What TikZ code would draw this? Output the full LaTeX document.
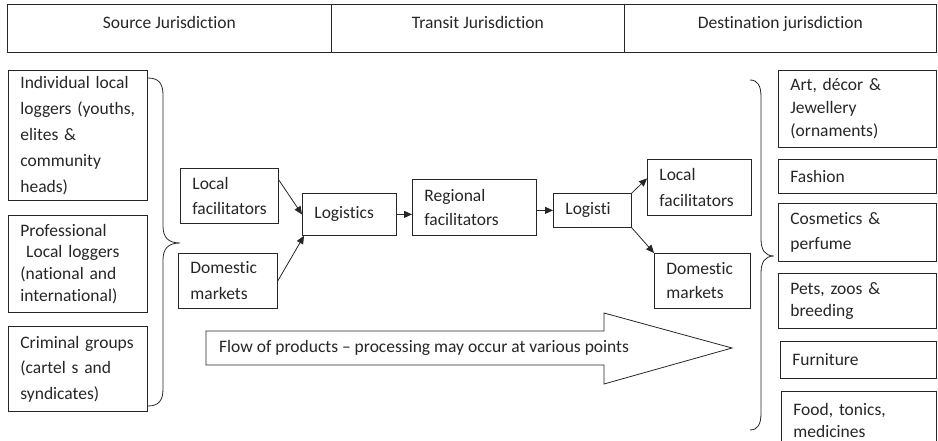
\documentclass[tikz,border=0pt]{standalone}
\usepackage{fontspec}
\setmainfont{Carlito}[Ligatures=NoCommon]
\usetikzlibrary{arrows.meta,calc}
\begin{document}
\begin{tikzpicture}[x=1pt,y=-1pt,
  box/.style={draw=black!85, line width=0.8pt, anchor=north west, inner xsep=12pt, inner ysep=0pt, align=left, text=black!85},
  hdr/.style={draw=black!85, line width=0.8pt, anchor=north west, inner sep=0pt, minimum height=48pt, text height=12pt, text depth=11pt, text=black!85, font=\fontsize{17.5}{20}\selectfont},
  fs/.style={font=\fontsize{17.5}{#1}\selectfont},
  arr/.style={draw=black!85, line width=0.8pt, -{Triangle[length=8pt,width=7pt]}},
  brace/.style={draw=black!85, line width=0.8pt}]
\useasboundingbox (0,0) rectangle (938,441);
\clip (0,0) rectangle (938,441);
% header
\node[hdr, minimum width=324pt] (hs) at (7,4) {Source Jurisdiction};
\node[hdr, minimum width=293pt] (ht) at (331,4) {Transit Jurisdiction};
\node[hdr, minimum width=312pt] (hd) at (624,4) {Destination jurisdiction};
% source actors
\node[box, fs=26, minimum width=139pt, minimum height=130pt, text width=115pt] (s1) at (8,70) {Individual local\\loggers (youths,\\elites \&\\community\\heads)};
\node[box, fs=21.7, minimum width=139pt, minimum height=97pt, text width=115pt] (s2) at (8,215) {Professional\\\ Local loggers\\(national and\\international)};
\node[box, fs=25.5, minimum width=139pt, minimum height=85pt, text width=115pt] (s3) at (8,326) {Criminal groups\\(cartel s and\\syndicates)};
% middle chain
\node[box, fs=25, minimum width=98pt, minimum height=55pt, text width=74pt] (lf) at (180,168) {Local\\facilitators};
\node[box, fs=26, minimum width=99pt, minimum height=55pt, text width=75pt] (dm) at (178,253) {Domestic\\markets};
\node[box, fs=20, minimum width=94pt, minimum height=42pt, text width=70pt] (lg) at (302,193) {Logistics};
\node[box, fs=24, minimum width=124pt, minimum height=56pt, text width=100pt] (rg) at (412,179) {Regional\\facilitators};
\node[box, fs=20, minimum width=78pt, minimum height=34pt, text width=54pt] (lo) at (553,193) {Logisti};
\node[box, fs=26, minimum width=104pt, minimum height=56pt, text width=80pt] (lfr) at (647,159) {Local\\facilitators};
\node[box, fs=24, minimum width=96pt, minimum height=55pt, text width=72pt] (dmr) at (654,253) {Domestic\\markets};
% destination uses
\node[box, fs=23, minimum width=158pt, minimum height=77pt, text width=134pt] (d1) at (778,70) {Art, décor \&\\Jewellery\\(ornaments)};
\node[box, fs=20, minimum width=158pt, minimum height=34pt, text width=134pt] (d2) at (778,159) {Fashion};
\node[box, fs=25, minimum width=158pt, minimum height=58pt, text width=134pt] (d3) at (778,203) {Cosmetics \&\\perfume};
\node[box, fs=22, minimum width=158pt, minimum height=55pt, text width=134pt] (d4) at (778,273) {Pets, zoos \&\\breeding};
\node[box, fs=20, minimum width=156pt, minimum height=37pt, text width=132pt] (d5) at (780,341) {Furniture};
\node[box, fs=22, minimum width=155pt, minimum height=58pt, text width=131pt] (d6) at (781,391) {Food, tonics,\\medicines};
% connectors
\draw[arr] ([yshift=-12pt]lf.north east) -- (lg.west);
\draw[arr] (dm.east) -- ([xshift=2pt]lg.south west);
\draw[arr] (lg.east) -- (lg.east -| rg.west);
\draw[arr] (lo.west -| rg.east) -- (lo.west);
\draw[arr] (lo.north east) -- ([yshift=9pt]lfr.west);
\draw[arr] (lo.south east) -- (dmr.north west);
% braces
\draw[brace] (148,78) .. controls (159,78) and (163,84) .. (163,95) -- (163,226) .. controls (163,237) and (168,243) .. (180,243) .. controls (168,243) and (163,249) .. (163,260) -- (163,389) .. controls (163,400) and (159,406) .. (148,406);
\draw[brace] (750,80) .. controls (758,80) and (761,86) .. (761,97) -- (761,239) .. controls (761,250) and (765,256) .. (774,256) .. controls (765,256) and (761,262) .. (761,273) -- (761,413) .. controls (761,424) and (758,430) .. (750,430);
% flow arrow
\draw[draw=black!85, line width=0.8pt] (206,331) -- (604,331) -- (604,313) -- (732,348) -- (604,384) -- (604,365) -- (206,365) -- cycle;
\node[anchor=west, inner sep=0pt, text=black!85, font=\fontsize{17.5}{20}\selectfont] (fl) at (219,348) {Flow of products – processing may occur at various points};
\end{tikzpicture}
\end{document}
